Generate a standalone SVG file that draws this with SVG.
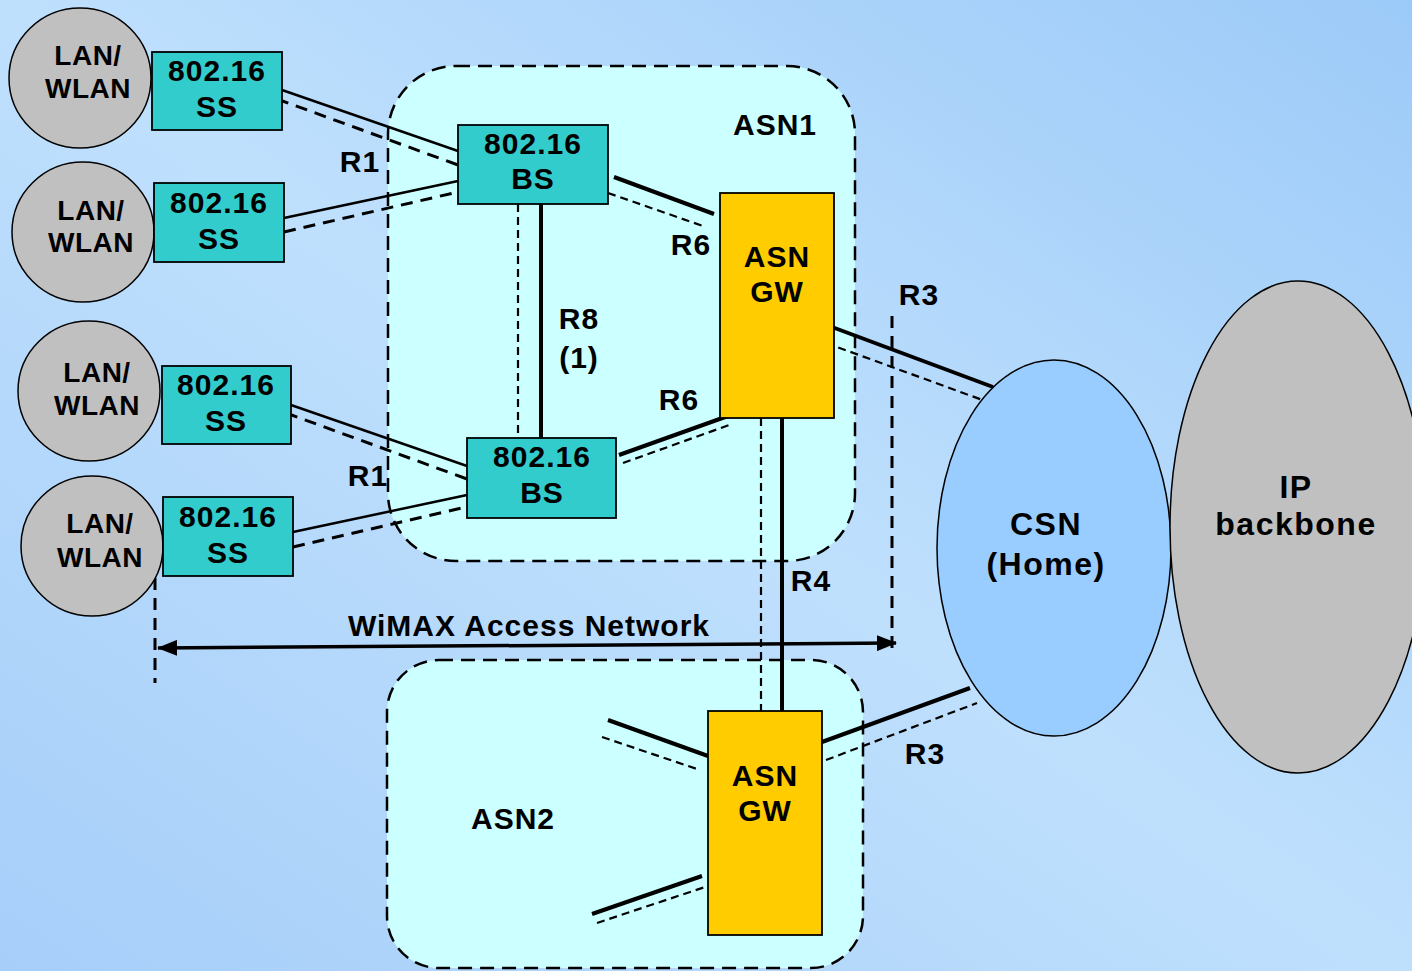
<svg xmlns="http://www.w3.org/2000/svg" width="1412" height="971" viewBox="0 0 1412 971">
<defs>
<linearGradient id="bg" x1="0" y1="1" x2="1" y2="0">
<stop offset="0" stop-color="#a6cef9"/>
<stop offset="0.5" stop-color="#bfe0fd"/>
<stop offset="1" stop-color="#9ccaf8"/>
</linearGradient>
<marker id="ah" viewBox="0 0 20 16" refX="19" refY="8" markerWidth="20" markerHeight="16" markerUnits="userSpaceOnUse" orient="auto-start-reverse">
<path d="M0,0 L20,8 L0,16 Z" fill="#000"/>
</marker>
<style>
.t{font-family:"Liberation Sans",Arial,sans-serif;font-weight:bold;font-size:30px;fill:#000;text-anchor:middle;letter-spacing:1px}
.tb{font-family:"Liberation Sans",Arial,sans-serif;font-weight:bold;font-size:32px;fill:#000;text-anchor:middle;letter-spacing:1.5px}
.tl{font-family:"Liberation Sans",Arial,sans-serif;font-weight:bold;font-size:28px;fill:#000;text-anchor:middle;letter-spacing:0.5px}
.lan{fill:#c0c0c0;stroke:#000;stroke-width:1.5}
.bx{fill:#33cccc;stroke:#000;stroke-width:1.8}
.gw{fill:#ffcc00;stroke:#000;stroke-width:1.8}
.asn{fill:#ccffff;stroke:#000;stroke-width:2.5;stroke-dasharray:14 8}
.s{stroke:#000;stroke-width:2.5;fill:none}
.sk{stroke:#000;stroke-width:4;fill:none}
.d{stroke:#000;stroke-width:3;stroke-dasharray:12 8;fill:none}
.dt{stroke:#000;stroke-width:2.2;stroke-dasharray:8 5;fill:none}
</style>
</defs>
<rect x="0" y="0" width="1412" height="971" fill="url(#bg)"/>

<g id="asn1"><rect class="asn" x="388" y="66" width="467" height="495" rx="68" ry="68"/><text class="t" x="775" y="135">ASN1</text></g>
<g id="asn2"><rect class="asn" x="387" y="660" width="476" height="308" rx="52" ry="52"/><text class="t" x="513" y="829">ASN2</text></g>

<g id="connectors">
<line class="s" x1="282" y1="90" x2="458" y2="151"/>
<line class="d" x1="277" y1="99" x2="458" y2="165"/>
<line class="s" x1="284" y1="218" x2="458" y2="181"/>
<line class="d" x1="284" y1="232" x2="458" y2="192"/>
<line class="s" x1="291" y1="405" x2="467" y2="466"/>
<line class="d" x1="286" y1="413" x2="467" y2="479"/>
<line class="s" x1="293" y1="532" x2="467" y2="495"/>
<line class="d" x1="293" y1="547" x2="466" y2="507"/>
<line class="sk" x1="541" y1="204" x2="541" y2="438"/>
<line class="dt" x1="518" y1="204" x2="518" y2="438"/>
<line class="sk" x1="614" y1="177" x2="714" y2="214"/>
<line class="dt" x1="608" y1="193" x2="703" y2="226"/>
<line class="sk" x1="619" y1="455" x2="728" y2="416"/>
<line class="dt" x1="623" y1="463" x2="732" y2="424"/>
<line class="sk" x1="782" y1="418" x2="782" y2="714"/>
<line class="dt" x1="761" y1="418" x2="761" y2="714"/>
<line class="sk" x1="832" y1="327" x2="993" y2="387"/>
<line class="dt" x1="826" y1="343" x2="988" y2="402"/>
<line class="sk" x1="811" y1="746" x2="970" y2="688"/>
<line class="dt" x1="826" y1="760" x2="977" y2="703"/>
<line class="sk" x1="608" y1="720" x2="708" y2="756"/>
<line class="dt" x1="602" y1="737" x2="697" y2="769"/>
<line class="sk" x1="592" y1="914" x2="702" y2="876"/>
<line class="dt" x1="597" y1="923" x2="705" y2="887"/>
<line class="d" x1="155" y1="578" x2="155" y2="683"/>
<line class="d" x1="892" y1="316" x2="892" y2="652"/>
<line stroke="#000" stroke-width="3.5" x1="158" y1="648" x2="896" y2="643" marker-start="url(#ah)" marker-end="url(#ah)"/>
</g>

<g id="lan1"><ellipse class="lan" cx="80" cy="78" rx="71" ry="70"/><text class="tl" x="88" y="65">LAN/</text><text class="tl" x="88" y="98">WLAN</text></g>
<g id="lan2"><ellipse class="lan" cx="83" cy="232" rx="71" ry="70"/><text class="tl" x="91" y="220">LAN/</text><text class="tl" x="91" y="252">WLAN</text></g>
<g id="lan3"><ellipse class="lan" cx="89" cy="391" rx="71" ry="70"/><text class="tl" x="97" y="382">LAN/</text><text class="tl" x="97" y="415">WLAN</text></g>
<g id="lan4"><ellipse class="lan" cx="92" cy="546" rx="71" ry="70"/><text class="tl" x="100" y="533">LAN/</text><text class="tl" x="100" y="567">WLAN</text></g>

<g id="ss1"><rect class="bx" x="152" y="52" width="130" height="78"/><text class="t" x="217" y="81">802.16</text><text class="t" x="217" y="117">SS</text></g>
<g id="ss2"><rect class="bx" x="154" y="183" width="130" height="79"/><text class="t" x="219" y="213">802.16</text><text class="t" x="219" y="249">SS</text></g>
<g id="ss3"><rect class="bx" x="162" y="366" width="129" height="78"/><text class="t" x="226" y="395">802.16</text><text class="t" x="226" y="431">SS</text></g>
<g id="ss4"><rect class="bx" x="163" y="497" width="130" height="79"/><text class="t" x="228" y="527">802.16</text><text class="t" x="228" y="563">SS</text></g>

<g id="bs1"><rect class="bx" x="458" y="125" width="150" height="79"/><text class="t" x="533" y="154">802.16</text><text class="t" x="533" y="189">BS</text></g>
<g id="bs2"><rect class="bx" x="467" y="438" width="149" height="80"/><text class="t" x="542" y="467">802.16</text><text class="t" x="542" y="503">BS</text></g>

<g id="gw1"><rect class="gw" x="720" y="193" width="114" height="225"/><text class="t" x="777" y="267">ASN</text><text class="t" x="777" y="302">GW</text></g>
<g id="gw2"><rect class="gw" x="708" y="711" width="114" height="224"/><text class="t" x="765" y="786">ASN</text><text class="t" x="765" y="821">GW</text></g>

<g id="csn"><ellipse fill="#99ccff" stroke="#000" stroke-width="1.5" cx="1054" cy="548" rx="117" ry="188"/><text class="tb" x="1046" y="535">CSN</text><text class="tb" x="1046" y="575">(Home)</text></g>
<g id="ip"><ellipse class="lan" cx="1298" cy="527" rx="128" ry="246"/><text class="tb" x="1296" y="498">IP</text><text class="tb" x="1296" y="535">backbone</text></g>

<g id="labels">
<text class="t" x="360" y="172">R1</text>
<text class="t" x="368" y="486">R1</text>
<text class="t" x="691" y="255">R6</text>
<text class="t" x="679" y="410">R6</text>
<text class="t" x="579" y="329">R8</text>
<text class="t" x="579" y="368">(1)</text>
<text class="t" x="919" y="305">R3</text>
<text class="t" x="925" y="764">R3</text>
<text class="t" x="811" y="591">R4</text>
<text class="t" x="529" y="636">WiMAX Access Network</text>
</g>
</svg>
